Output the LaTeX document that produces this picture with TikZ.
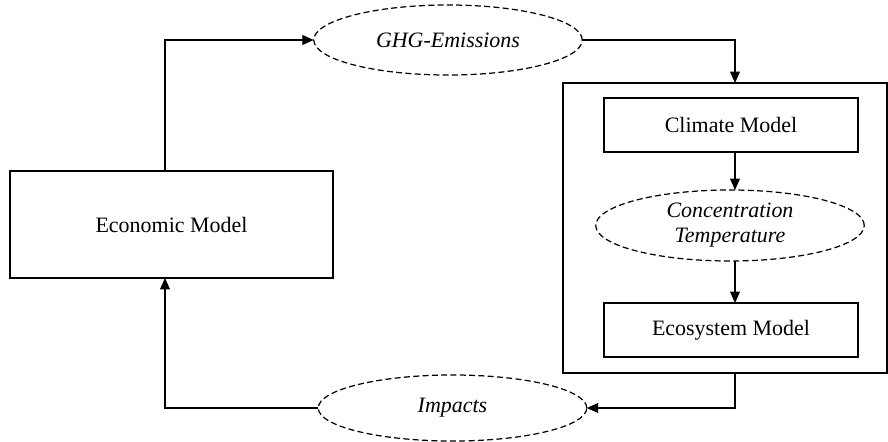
\documentclass[tikz,border=0pt]{standalone}
\usepackage{fontspec}
\setmainfont{Liberation Serif}
\usetikzlibrary{arrows.meta,shapes.geometric}

\begin{document}
\begin{tikzpicture}[
	line width=0.7pt,
	font=\fontsize{12.5}{14.2}\selectfont,
	model/.style={draw, align=center, inner sep=0pt, outer sep=0pt},
	flow/.style={draw, ellipse, dash pattern=on 3.4pt off 1.9pt, align=center, inner sep=0pt, outer sep=0pt, font=\fontsize{12.5}{14.2}\selectfont\itshape, minimum width=5.37cm},
	arr/.style={-{Triangle[length=6.5pt,width=5.6pt]}}
	]
	\useasboundingbox (0,0) rectangle (17.76,8.82);
	\node [model, minimum width=6.46cm, minimum height=2.14cm] (econ) at (3.43,4.33) {Economic Model};
	\node [flow, minimum height=1.4cm] (ghg) at (8.96,8.02) {GHG-Emissions};
	\node [model, minimum width=6.48cm, minimum height=5.8cm] (sys) at (14.5,4.26) {};
	\node [model, minimum width=5.08cm, minimum height=1.08cm] (climate) at (14.62,6.32) {Climate Model};
	\node [flow, minimum height=1.42cm] (conc) at (14.6,4.31) {Concentration \\ Temperature};
	\node [model, minimum width=5.08cm, minimum height=1.08cm] (eco) at (14.62,2.22) {Ecosystem Model};
	\node [flow, minimum height=1.32cm] (impacts) at (9.05,0.66) {Impacts};

	\draw [arr] ([xshift=-0.13cm]econ.north) |- (ghg.west);
	\draw [arr] (ghg.east) -| ([xshift=0.2cm]sys.north);
	\draw [arr] ([xshift=0.08cm]climate.south) -- ([xshift=0.08cm]climate.south |- conc.north);
	\draw [arr] ([xshift=0.08cm]eco.north |- conc.south) -- ([xshift=0.08cm]eco.north);
	\draw [arr] ([xshift=0.2cm]sys.south) |- (impacts.east);
	\draw [arr] (impacts.west) -| ([xshift=-0.13cm]econ.south);
\end{tikzpicture}
\end{document}
